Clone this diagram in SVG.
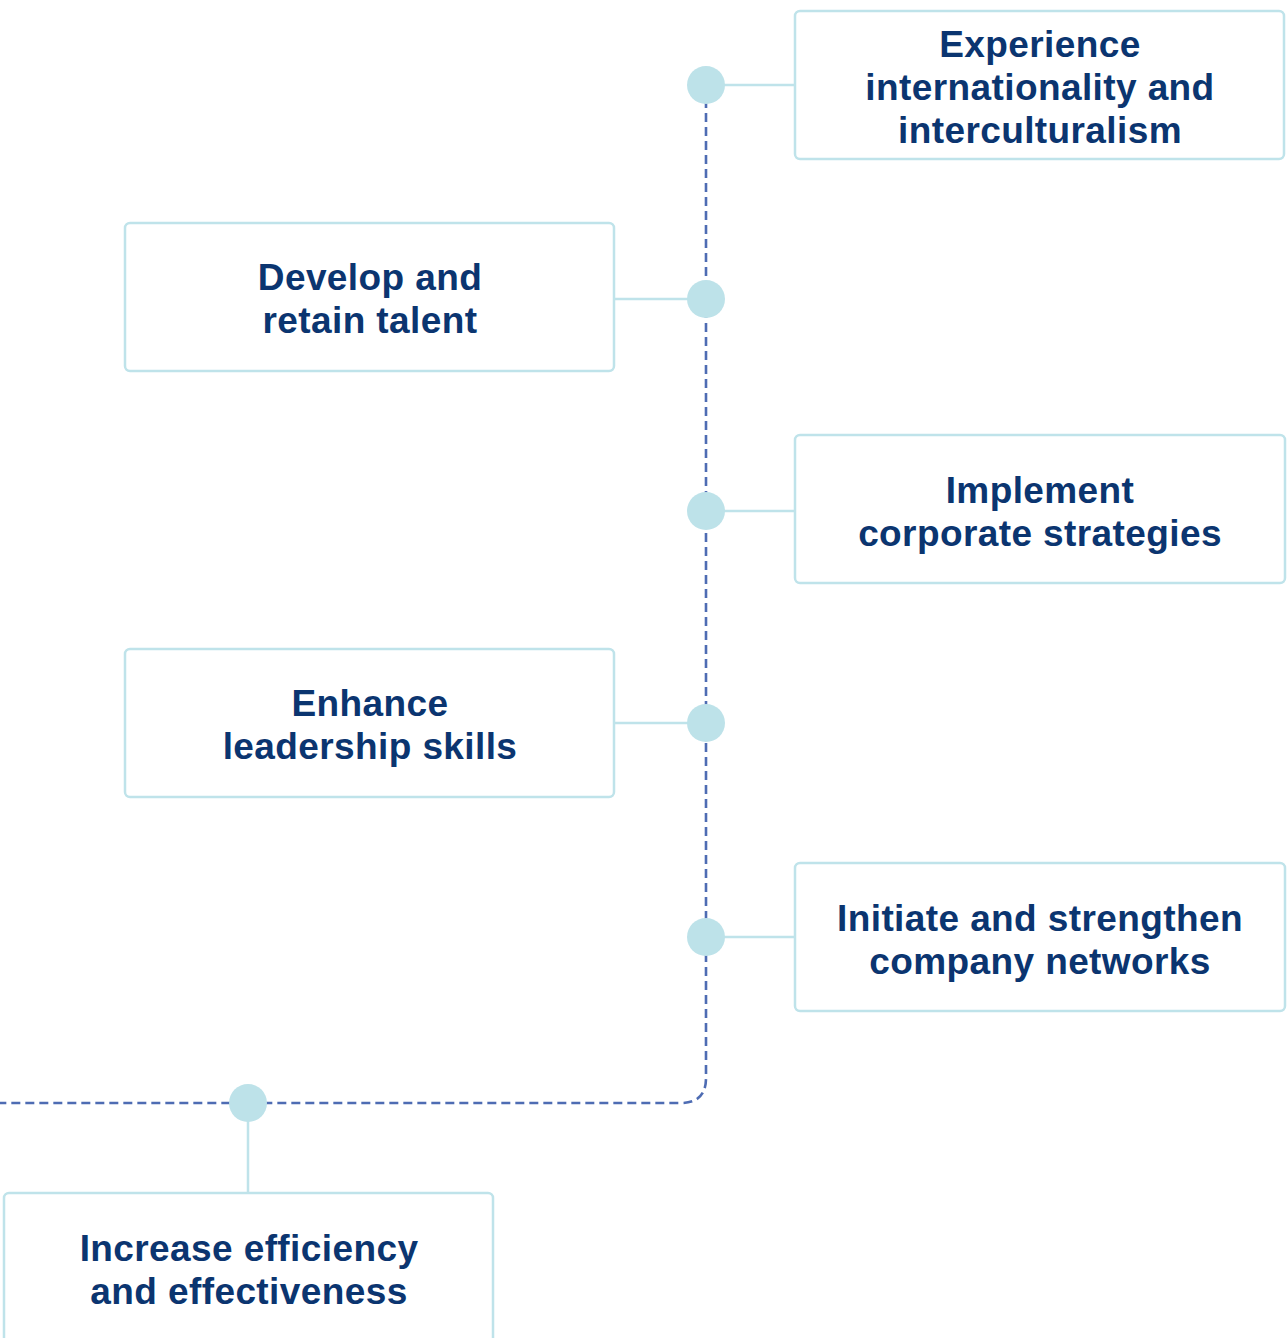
<svg xmlns="http://www.w3.org/2000/svg" width="1288" height="1338" viewBox="0 0 1288 1338">
<style>
.box{fill:#ffffff;stroke:#bfe3ea;stroke-width:2.5}
.lbl{font-family:"Liberation Sans",Arial,sans-serif;font-weight:bold;font-size:37px;fill:#0b3570;text-anchor:middle;letter-spacing:0.4px}
.dash{fill:none;stroke:#4e6cb3;stroke-width:2.6;stroke-dasharray:9 5}
.link{stroke:#bfe3ea;stroke-width:2.5;fill:none}
.dot{fill:#bde2e9}
</style>
<rect width="1288" height="1338" fill="#ffffff"/>
<g id="connectors">
<path class="dash" d="M706,85 V1078 Q706,1103 681,1103 H0"/>
<line class="link" x1="706" y1="85" x2="795" y2="85"/>
<line class="link" x1="614" y1="299" x2="706" y2="299"/>
<line class="link" x1="706" y1="511" x2="795" y2="511"/>
<line class="link" x1="614" y1="723" x2="706" y2="723"/>
<line class="link" x1="706" y1="937" x2="795" y2="937"/>
<line class="link" x1="248" y1="1103" x2="248" y2="1193"/>
<circle class="dot" cx="706" cy="85" r="19"/>
<circle class="dot" cx="706" cy="299" r="19"/>
<circle class="dot" cx="706" cy="511" r="19"/>
<circle class="dot" cx="706" cy="723" r="19"/>
<circle class="dot" cx="706" cy="937" r="19"/>
<circle class="dot" cx="248" cy="1103" r="19"/>
</g>
<g id="n1">
<rect class="box" x="795" y="11" width="489" height="148" rx="5"/>
<text class="lbl" x="1040" y="57">Experience</text>
<text class="lbl" x="1040" y="100">internationality and</text>
<text class="lbl" x="1040" y="143">interculturalism</text>
</g>
<g id="n2">
<rect class="box" x="125" y="223" width="489" height="148" rx="5"/>
<text class="lbl" x="370" y="290">Develop and</text>
<text class="lbl" x="370" y="333">retain talent</text>
</g>
<g id="n3">
<rect class="box" x="795" y="435" width="490" height="148" rx="5"/>
<text class="lbl" x="1040" y="503">Implement</text>
<text class="lbl" x="1040" y="546">corporate strategies</text>
</g>
<g id="n4">
<rect class="box" x="125" y="649" width="489" height="148" rx="5"/>
<text class="lbl" x="370" y="716">Enhance</text>
<text class="lbl" x="370" y="759">leadership skills</text>
</g>
<g id="n5">
<rect class="box" x="795" y="863" width="490" height="148" rx="5"/>
<text class="lbl" x="1040" y="931">Initiate and strengthen</text>
<text class="lbl" x="1040" y="974">company networks</text>
</g>
<g id="n6">
<rect class="box" x="4" y="1193" width="489" height="160" rx="5"/>
<text class="lbl" x="249" y="1261">Increase efficiency</text>
<text class="lbl" x="249" y="1304">and effectiveness</text>
</g>
</svg>
